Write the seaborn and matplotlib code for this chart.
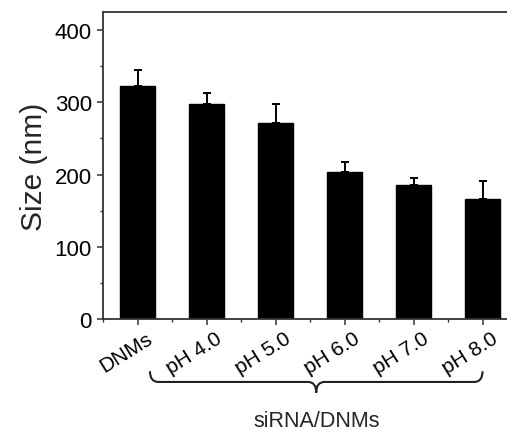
import matplotlib
matplotlib.use("Agg")
import numpy as np
import pandas as pd
import matplotlib.pyplot as plt
import seaborn as sns
from matplotlib.path import Path
from matplotlib.patches import PathPatch
from matplotlib.ticker import MultipleLocator
import matplotlib.transforms as mtransforms

# --- Data ---
groups = ["DNMs", "pH 4.0", "pH 5.0", "pH 6.0", "pH 7.0", "pH 8.0"]
sizes = [322, 298, 272, 203, 186, 166]
size_err = [23, 15, 26, 14, 9, 25]
group_label = "siRNA/DNMs"

df = pd.DataFrame({"group": groups, "size": sizes})

sns.set_style("ticks")
plt.rcParams["font.family"] = ["Liberation Sans", "DejaVu Sans"]

fig = plt.figure(figsize=(5.07, 4.31), dpi=100)
ax = fig.add_axes([0.2032, 0.2575, 0.8166, 0.7123])

sns.barplot(data=df, x="group", y="size", color="black", edgecolor="black",
            width=0.5, errorbar=None, saturation=1, ax=ax)

# one-sided error bars (upper only)
xpos = np.arange(len(groups))
ax.errorbar(xpos, sizes, yerr=[np.zeros(len(size_err)), size_err], fmt="none",
            ecolor="black", elinewidth=1.4, capsize=3.2, capthick=1.4, zorder=1)

# --- Axes styling ---
ax.set_xlim(-0.5, 5.5)
ax.set_ylim(0, 425)
ax.yaxis.set_major_locator(MultipleLocator(100))
ax.yaxis.set_minor_locator(MultipleLocator(50))
ax.xaxis.set_minor_locator(MultipleLocator(0.5))
ax.tick_params(axis="y", which="major", labelsize=16)
ax.tick_params(axis="x", which="major", labelsize=15, pad=2)
ax.tick_params(axis="both", which="major", direction="out", length=4.5, width=1.1,
               color="#333333", labelcolor="black")
ax.tick_params(axis="both", which="minor", direction="out", length=2.5, width=1.0,
               color="#333333")
for side in ["left", "bottom", "top"]:
    ax.spines[side].set_visible(True)
    ax.spines[side].set_linewidth(1.3)
    ax.spines[side].set_color("#333333")
ax.spines["right"].set_visible(False)

ax.set_xlabel("")
ax.set_ylabel("Size (nm)", fontsize=21.5, labelpad=5)

for lbl in ax.get_xticklabels():
    lbl.set_rotation(32)
    lbl.set_ha("right")
    lbl.set_va("top")
    lbl.set_rotation_mode("anchor")
    lbl.set_transform(lbl.get_transform() + mtransforms.ScaledTranslation(6 / 72, 0, fig.dpi_scale_trans))

# --- Curly brace under the siRNA groups ---
trans = mtransforms.blended_transform_factory(ax.transData, ax.transAxes)
x0, x1 = 0.18, 5.0
xm = (x0 + x1) / 2
yt, ym, yb = -0.17, -0.205, -0.24
r = 0.12
verts = [
    (x0, yt), (x0, ym), (x0 + r, ym),
    (xm - r, ym), (xm, ym), (xm, yb),
    (xm, ym), (xm + r, ym),
    (x1 - r, ym), (x1, ym), (x1, yt),
]
codes = [
    Path.MOVETO, Path.CURVE3, Path.CURVE3,
    Path.LINETO, Path.CURVE3, Path.CURVE3,
    Path.CURVE3, Path.CURVE3,
    Path.LINETO, Path.CURVE3, Path.CURVE3,
]
brace = PathPatch(Path(verts, codes), transform=trans, fill=False,
                  edgecolor="#222222", linewidth=1.5, clip_on=False)
ax.add_patch(brace)
ax.text(xm, -0.33, group_label, transform=trans, ha="center", va="center",
        fontsize=15.5)

fig.savefig("out.png", dpi=100)
